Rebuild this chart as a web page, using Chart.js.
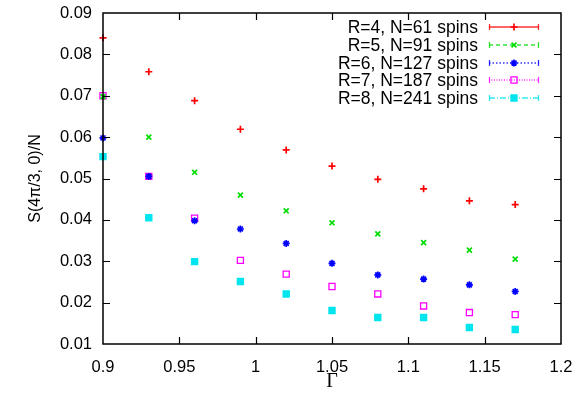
<!DOCTYPE html>
<html>
<head>
<meta charset="utf-8">
<script src="https://cdn.jsdelivr.net/npm/chart.js@4/dist/chart.umd.min.js"></script>
<style>
  html, body { margin: 0; padding: 0; background: #fff; }
  #wrap { width: 576px; height: 397px; }
</style>
</head>
<body>
<div id="wrap"><canvas id="c" width="576" height="397"></canvas></div>
<script>
// ---- data ----
const gammaValues = [0.90, 0.93, 0.96, 0.99, 1.02, 1.05, 1.08, 1.11, 1.14, 1.17];
const seriesLabels = ["R=4, N=61 spins", "R=5, N=91 spins", "R=6, N=127 spins", "R=7, N=187 spins", "R=8, N=241 spins"];
const r4 = [0.0840, 0.0758, 0.0688, 0.0619, 0.0569, 0.0530, 0.0498, 0.0475, 0.0446, 0.0437];
const r5 = [0.0698, 0.0600, 0.0515, 0.0460, 0.0422, 0.0393, 0.0366, 0.0345, 0.0327, 0.0305];
const r6 = [0.0598, 0.0505, 0.0398, 0.0378, 0.0343, 0.0295, 0.0267, 0.0257, 0.0243, 0.0227];
const r7 = [0.0700, 0.0505, 0.0404, 0.0302, 0.0269, 0.0239, 0.0221, 0.0192, 0.0176, 0.0171];
const r8 = [0.0553, 0.0405, 0.0299, 0.0251, 0.0221, 0.0181, 0.0164, 0.0164, 0.0140, 0.0135];
const xTickValues = [0.9, 0.95, 1.0, 1.05, 1.1, 1.15, 1.2];
const yTickValues = [0.01, 0.02, 0.03, 0.04, 0.05, 0.06, 0.07, 0.08, 0.09];
const xTitle = "Γ";
const yTitle = "S(4π/3, 0)/N";

const seriesValues = [r4, r5, r6, r7, r8];
const styles = [
  { color: "#ff0000", point: "cross",    radius: 3.5, fill: false, dash: [] },
  { color: "#00dd00", point: "crossRot", radius: 3.5, fill: false, dash: [4, 3] },
  { color: "#0000ff", point: "star",     radius: 3.5, fill: false, dash: [1.5, 2] },
  { color: "#ff00ff", point: "rect",     radius: 4.3, fill: false, dash: [1, 1.5] },
  { color: "#00e5ee", point: "rect",     radius: 4.3, fill: true,  dash: [6, 2, 1, 2] }
];

const datasets = seriesValues.map((vals, i) => ({
  label: seriesLabels[i],
  data: vals.map((v, j) => ({ x: gammaValues[j], y: v })),
  showLine: false,
  clip: false,
  pointStyle: styles[i].point,
  pointRadius: styles[i].radius,
  pointHoverRadius: styles[i].radius,
  borderColor: styles[i].color,
  backgroundColor: styles[i].fill ? styles[i].color : "rgba(0,0,0,0)",
  pointBorderWidth: styles[i].point === "rect" ? 1.3 : 1.7,
  borderDash: styles[i].dash
}));

const FONT = "'Liberation Sans', Arial, Helvetica, sans-serif";

const framePlugin = {
  id: "frame",
  afterDraw(chart) {
    const ctx = chart.ctx;
    const { left, right, top, bottom } = chart.chartArea;
    const xs = chart.scales.x, ys = chart.scales.y;
    ctx.save();
    ctx.strokeStyle = "#000";
    ctx.lineWidth = 1.5;
    ctx.strokeRect(left, top, right - left, bottom - top);
    ctx.lineWidth = 1.2;
    const tl = 7;
    ctx.beginPath();
    xTickValues.forEach(v => {
      const px = Math.round(xs.getPixelForValue(v)) + 0.5;
      if (px <= left + 1 || px >= right - 1) return;
      ctx.moveTo(px, bottom); ctx.lineTo(px, bottom - tl);
      ctx.moveTo(px, top); ctx.lineTo(px, top + tl);
    });
    yTickValues.forEach(v => {
      const py = Math.round(ys.getPixelForValue(v)) + 0.5;
      if (py <= top + 1 || py >= bottom - 1) return;
      ctx.moveTo(left, py); ctx.lineTo(left + tl, py);
      ctx.moveTo(right, py); ctx.lineTo(right - tl, py);
    });
    ctx.stroke();

    // legend (gnuplot style: right-aligned text, then sample line with point)
    const textRight = 478, lx0 = 489, lx1 = 539, rowTop = 27, rowH = 17.8;
    ctx.font = "17.5px " + FONT;
    ctx.textAlign = "right";
    ctx.textBaseline = "middle";
    chart.data.datasets.forEach((ds, i) => {
      const y = Math.round(rowTop + i * rowH);
      const col = styles[i].color;
      ctx.fillStyle = "#000";
      ctx.fillText(ds.label, textRight, y + 1);
      ctx.strokeStyle = col;
      ctx.globalAlpha = 0.8;
      ctx.lineWidth = 1.3;
      ctx.setLineDash(styles[i].dash);
      ctx.beginPath();
      ctx.moveTo(lx0, y); ctx.lineTo(lx1, y);
      ctx.stroke();
      ctx.setLineDash([]);
      ctx.beginPath();
      ctx.moveTo(lx0 + 0.5, y - 3); ctx.lineTo(lx0 + 0.5, y + 3);
      ctx.moveTo(lx1 - 0.5, y - 3); ctx.lineTo(lx1 - 0.5, y + 3);
      ctx.stroke();
      ctx.globalAlpha = 1;
      const opts = {
        pointStyle: styles[i].point, radius: styles[i].radius, rotation: 0,
        borderWidth: ds.pointBorderWidth
      };
      ctx.strokeStyle = col;
      ctx.fillStyle = styles[i].fill ? col : "rgba(0,0,0,0)";
      ctx.lineWidth = ds.pointBorderWidth;
      if (Chart.helpers && Chart.helpers.drawPoint) {
        Chart.helpers.drawPoint(ctx, opts, (lx0 + lx1) / 2, y);
      }
    });
    ctx.restore();
  }
};

new Chart(document.getElementById("c"), {
  type: "scatter",
  data: { datasets },
  options: {
    responsive: false,
    animation: false,
    devicePixelRatio: 1,
    layout: { padding: { top: 13, right: 15, left: 0, bottom: 0 } },
    plugins: { legend: { display: false }, tooltip: { enabled: false } },
    scales: {
      x: {
        type: "linear", position: "bottom", min: 0.9, max: 1.2,
        afterBuildTicks: s => { s.ticks = xTickValues.map(v => ({ value: v })); },
        afterFit: s => { s.height = 53; s.paddingLeft = 0; s.paddingRight = 0; },
        grid: { display: false, drawTicks: false },
        border: { display: false },
        ticks: {
          autoSkip: false, maxRotation: 0, padding: 14, color: "#000",
          font: { family: FONT, size: 16.5 },
          callback: v => String(parseFloat(Number(v).toFixed(2)))
        },
        title: {
          display: true, text: xTitle, color: "#000",
          font: { family: "'Liberation Serif', 'Times New Roman', serif", size: 20 },
          padding: { top: 0, bottom: 3 }
        }
      },
      y: {
        type: "linear", position: "left", min: 0.01, max: 0.09,
        afterBuildTicks: s => { s.ticks = yTickValues.map(v => ({ value: v })); },
        afterFit: s => { s.width = 103; s.paddingTop = 0; s.paddingBottom = 0; },
        grid: { display: false, drawTicks: false },
        border: { display: false },
        ticks: {
          autoSkip: false, padding: 11, color: "#000",
          font: { family: FONT, size: 16.5 },
          callback: v => Number(v).toFixed(2)
        },
        title: {
          display: true, text: yTitle, color: "#000",
          font: { family: FONT, size: 16 },
          padding: { top: 26, bottom: 0 }
        }
      }
    }
  },
  plugins: [framePlugin]
});
</script>
</body>
</html>
